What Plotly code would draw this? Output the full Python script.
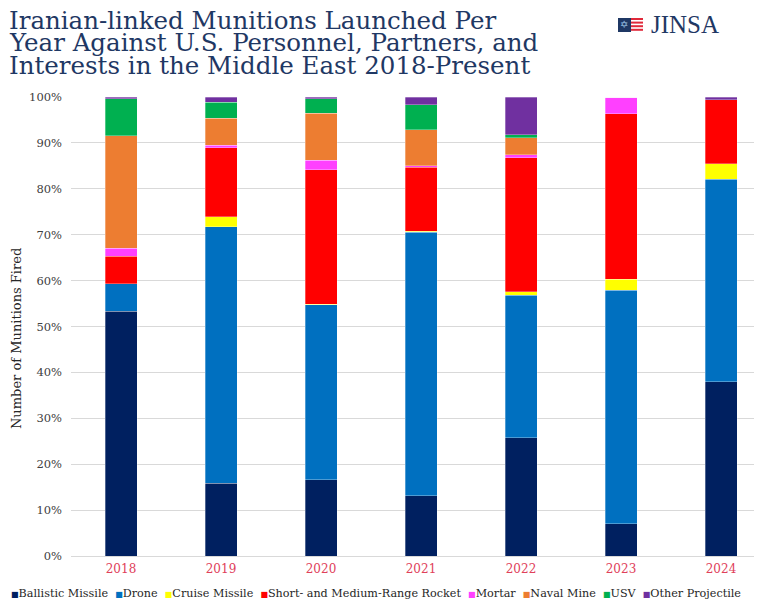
import plotly.graph_objects as go

years = ["2018", "2019", "2020", "2021", "2022", "2023", "2024"]
ballistic = [53.3, 15.9, 16.6, 13.1, 25.8, 7.0, 38.0]
drone = [6.0, 55.8, 38.1, 57.4, 31.0, 50.9, 44.1]
cruise = [0.0, 2.2, 0.2, 0.2, 0.8, 2.4, 3.4]
rocket = [6.0, 15.0, 29.3, 14.0, 29.2, 36.0, 13.9]
mortar = [1.7, 0.6, 2.0, 0.3, 0.6, 3.7, 0.0]
naval_mine = [24.6, 5.9, 10.3, 7.9, 3.7, 0.0, 0.0]
usv = [8.0, 3.5, 3.1, 5.4, 0.7, 0.0, 0.0]
other = [0.4, 1.1, 0.4, 1.7, 8.2, 0.0, 0.6]

series_names = ["Ballistic Missile", "Drone", "Cruise Missile",
                "Short- and Medium-Range Rocket", "Mortar", "Naval Mine",
                "USV", "Other Projectile"]
series_values = [ballistic, drone, cruise, rocket, mortar, naval_mine, usv, other]
series_colors = ["#002060", "#0070C0", "#FFFF00", "#FF0000", "#FF40FF",
                 "#ED7D31", "#00B050", "#7030A0"]

y_tick_values = [0, 10, 20, 30, 40, 50, 60, 70, 80, 90, 100]
y_tick_labels = ["0%", "10%", "20%", "30%", "40%", "50%", "60%", "70%", "80%", "90%", "100%"]

fig = go.Figure()
for name, vals, col in zip(series_names, series_values, series_colors):
    fig.add_trace(go.Bar(x=years, y=vals, name=name, marker_color=col,
                         marker_line_width=0.6, marker_line_color="rgba(255,255,255,0.5)"))

# page has an 8px body margin; work in reference-pixel coordinates
OFF = 8
PL, PR, PT, PB = 71, 762, 97, 556        # plot area in the reference picture
W, H = 762 - OFF, 601 - OFF
pw, ph = PR - PL, PB - PT
L, T = PL - OFF, PT - OFF
B = H - (PB - OFF)

def px(x):
    return (x - PL) / pw

def py(y):
    return (PB - y) / ph

serif = "DejaVu Serif"
navy = "#1f3864"

annotations = []
title_lines = ["Iranian-linked Munitions Launched Per",
               "Year Against U.S. Personnel, Partners, and",
               "Interests in the Middle East 2018-Present"]
for i, line in enumerate(title_lines):
    annotations.append(dict(text=line, x=px(7), y=py(20 + 22.8 * i), xref="paper", yref="paper",
                            xanchor="left", yanchor="middle", showarrow=False,
                            font=dict(family=serif, size=24.5, color=navy)))

# logo
annotations.append(dict(text="JINSA", x=px(649), y=py(25), xref="paper", yref="paper",
                        xanchor="left", yanchor="middle", showarrow=False,
                        font=dict(family="Liberation Serif", size=25, color=navy)))
annotations.append(dict(text="✡", x=px(624), y=py(25), xref="paper", yref="paper",
                        xanchor="center", yanchor="middle", showarrow=False,
                        font=dict(family="DejaVu Sans", size=10, color="#9dc3e6")))

# y-axis title
annotations.append(dict(text="Number of Munitions Fired", x=px(16), y=py(339), xref="paper",
                        yref="paper", xanchor="center", yanchor="middle", textangle=-90,
                        showarrow=False, font=dict(family=serif, size=13, color="#262626")))

# legend
parts = []
for name, col in zip(series_names, series_colors):
    parts.append('<span style="color:%s;font-size:8px">■</span>%s' % (col, name))
legend_text = "  ".join(parts)
annotations.append(dict(text=legend_text, x=px(9), y=py(593), xref="paper", yref="paper",
                        xanchor="left", yanchor="middle", showarrow=False, align="left",
                        font=dict(family=serif, size=11.2, color="#262626")))

shapes = [
    dict(type="rect", xref="paper", yref="paper", x0=px(618), x1=px(631), y0=py(32), y1=py(18),
         fillcolor="#1f3864", line_width=0),
]
for k in range(4):
    y0 = 18 + k * 3.6
    shapes.append(dict(type="rect", xref="paper", yref="paper", x0=px(631), x1=px(643),
                       y0=py(y0 + 2.0), y1=py(y0), fillcolor="#e0293a", line_width=0))

fig.update_layout(
    width=W, height=H,
    margin=dict(l=L, r=0, t=T, b=B),
    barmode="stack",
    bargap=0.68,
    plot_bgcolor="white", paper_bgcolor="white",
    showlegend=False,
    annotations=annotations,
    shapes=shapes,
    xaxis=dict(range=[-0.5, -0.5 + pw / 100.0], showgrid=False, showline=False, ticks="",
               ticklabelstandoff=4,
               tickfont=dict(family=serif, size=12, color="#e0405a"), fixedrange=True),
    yaxis=dict(range=[0, 100], tickmode="array", tickvals=y_tick_values, ticktext=y_tick_labels,
               showgrid=True, gridcolor="#d9d9d9", gridwidth=1.3, zeroline=True,
               zerolinecolor="#d9d9d9", zerolinewidth=1.3, showline=False, ticks="",
               ticklabelstandoff=8,
               tickfont=dict(family=serif, size=11.5, color="#404040")),
)

fig.write_html("out.html")
